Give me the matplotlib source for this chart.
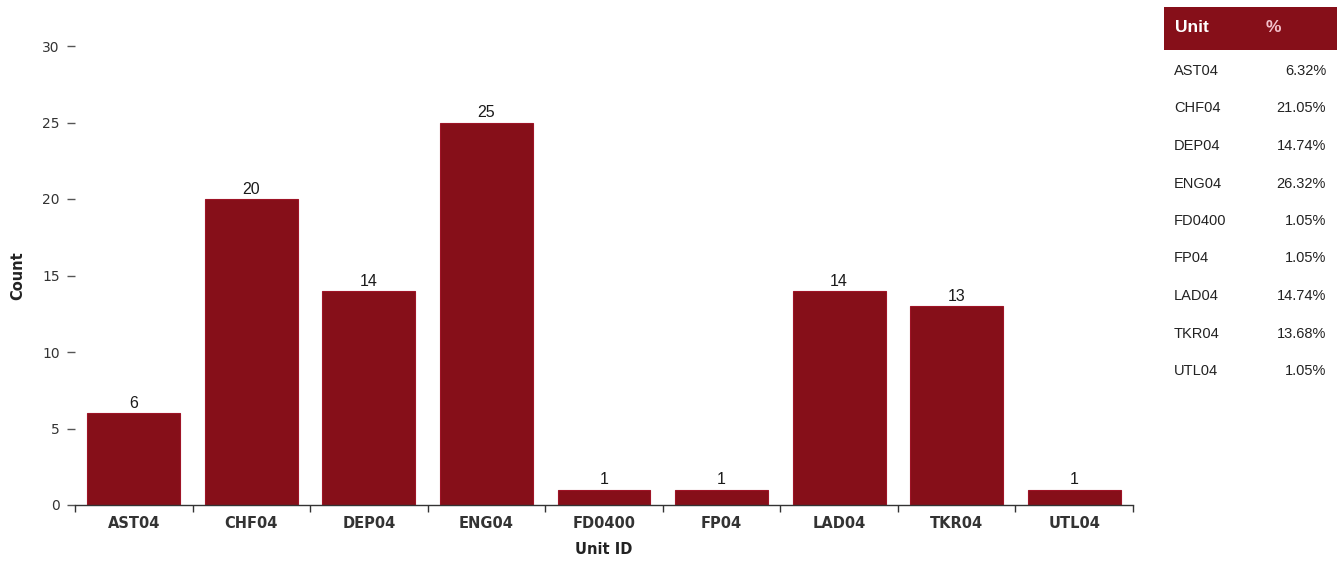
import matplotlib
matplotlib.use("Agg")
import matplotlib.pyplot as plt
from matplotlib.patches import Rectangle
from matplotlib.ticker import FixedLocator

units = ["AST04", "CHF04", "DEP04", "ENG04", "FD0400", "FP04", "LAD04", "TKR04", "UTL04"]
counts = [6, 20, 14, 25, 1, 1, 14, 13, 1]
percents = ["6.32%", "21.05%", "14.74%", "26.32%", "1.05%", "1.05%", "14.74%", "13.68%", "1.05%"]
y_ticks = [0, 5, 10, 15, 20, 25, 30]

BAR = "#860f19"
W, H = 1337, 561

fig = plt.figure(figsize=(W / 100, H / 100), dpi=100)
fig.patch.set_facecolor("white")

# axes box in pixel coordinates: x 75..1133, y(0)=505, y(30)=46
ax = fig.add_axes([75 / W, 1 - 505 / H, (1133 - 75) / W, (505 - 46) / H])
x = list(range(len(units)))
bars = ax.bar(x, counts, width=0.79, color=BAR, edgecolor="#9e1426", linewidth=0.8)
for xi, c in zip(x, counts):
    ax.text(xi, c + 0.15, str(c), ha="center", va="bottom", fontsize=11.5,
            color="#1a1a1a", family="Liberation Sans")

ax.set_xlim(-0.5, len(units) - 0.5)
ax.set_ylim(0, 30)
ax.set_yticks(y_ticks)
ax.set_yticklabels([str(t) for t in y_ticks], fontsize=10, color="#333333",
                   family="DejaVu Sans")
ax.tick_params(axis="y", length=6, width=1, color="#555555", pad=5)

ax.set_xticks(x)
ax.set_xticklabels(units, fontsize=10.5, fontweight="bold", color="#333333",
                   family="DejaVu Sans")
ax.tick_params(axis="x", which="major", length=0, pad=8)
ax.xaxis.set_minor_locator(FixedLocator([i - 0.5 for i in range(len(units) + 1)]))
ax.tick_params(axis="x", which="minor", length=5, width=1, color="#333333")

for s in ("top", "right", "left"):
    ax.spines[s].set_visible(False)
ax.spines["bottom"].set_color("#333333")
ax.spines["bottom"].set_linewidth(1)

fig.text(18 / W, 1 - 276 / H, "Count", rotation=90, ha="center", va="center",
         fontsize=10.5, fontweight="bold", family="DejaVu Sans", color="#222222")
fig.text(604 / W, 1 - 549 / H, "Unit ID", ha="center", va="center",
         fontsize=10.5, fontweight="bold", family="DejaVu Sans", color="#222222")

# side table of percentages
fig.patches.append(Rectangle((1164 / W, 1 - 50 / H), (W - 1164) / W, 43 / H,
                             transform=fig.transFigure, facecolor=BAR,
                             edgecolor="none"))
fig.text(1175 / W, 1 - 28 / H, "Unit", ha="left", va="center", fontsize=12.5,
         fontweight="bold", color="white", family="Liberation Sans")
fig.text(1266 / W, 1 - 28 / H, "%", ha="left", va="center", fontsize=12.5,
         fontweight="bold", color="#f3c0cb", family="Liberation Sans")
for i, (u, p) in enumerate(zip(units, percents)):
    yy = 1 - (71 + 37.5 * i) / H
    fig.text(1174 / W, yy, u, ha="left", va="center", fontsize=10.5,
             color="#222222", family="Liberation Sans")
    fig.text(1326 / W, yy, p, ha="right", va="center", fontsize=10.5,
             color="#222222", family="Liberation Sans")

fig.savefig("out.png", dpi=100)
